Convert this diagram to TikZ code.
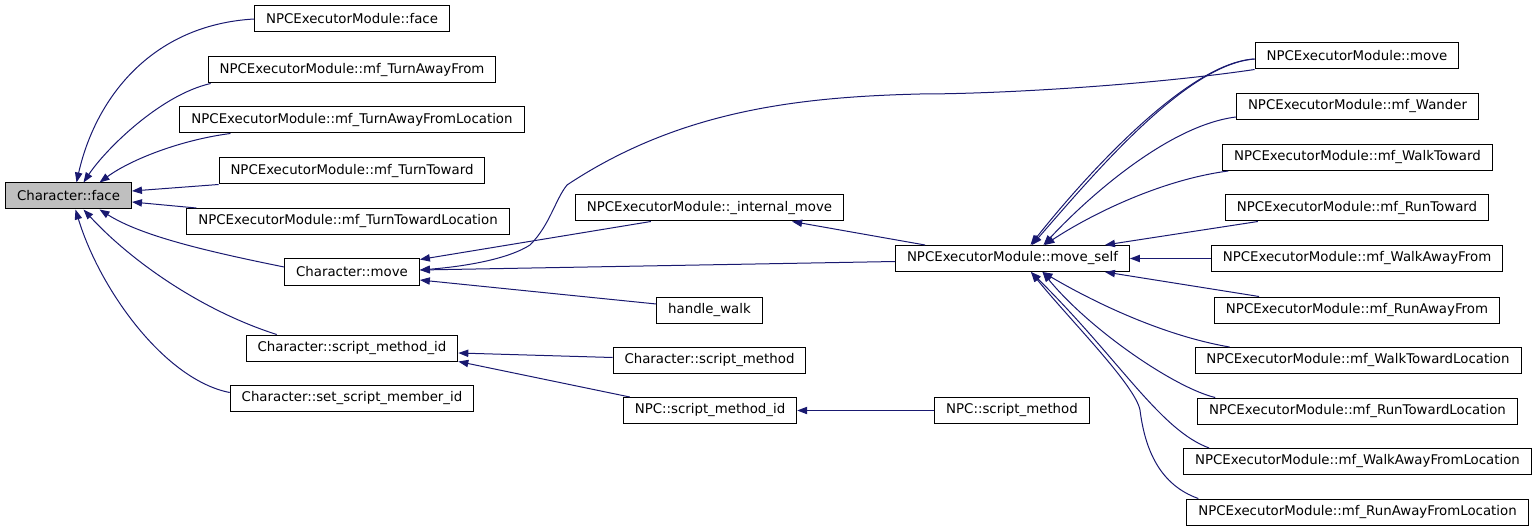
\documentclass[tikz,border=0pt]{standalone}
\usepackage{fontspec}
\setmainfont{DejaVu Sans}
\usetikzlibrary{arrows.meta,calc}

\tikzset{every picture/.style={line width=0.75pt}}
\tikzset{
  fn/.style={draw, inner xsep=8.6pt, inner ysep=0pt, minimum height=19.5pt, font=\fontsize{10}{12}\selectfont},
  fnsel/.style={fn, fill={rgb, 255:red, 191; green, 191; blue, 191 }},
  call/.style={color={rgb, 255:red, 25; green, 25; blue, 112 }, -{Triangle[length=7.5pt,width=5.5pt]}}
}

\begin{document}
\begin{tikzpicture}[x=0.75pt,y=0.75pt,yscale=-1,xscale=1]
\useasboundingbox (0,0) rectangle (1536,531);

% Text Node
\node [fnsel] (cface) at (68.5,196) {Character::face};
% Text Node
\node [fn] (nface) at (352,19) {NPCExecutorModule::face};
\node [fn] (taf) at (352,70) {NPCExecutorModule::mf\_TurnAwayFrom};
\node [fn] (tafl) at (352,120) {NPCExecutorModule::mf\_TurnAwayFromLocation};
\node [fn] (tt) at (352,171) {NPCExecutorModule::mf\_TurnToward};
\node [fn] (ttl) at (348,221.5) {NPCExecutorModule::mf\_TurnTowardLocation};
\node [fn] (cmove) at (352,272) {Character::move};
\node [fn] (csmid) at (352,348) {Character::script\_method\_id};
\node [fn] (cssmid) at (352,398.5) {Character::set\_script\_member\_id};
% Text Node
\node [fn] (imove) at (709.5,208) {NPCExecutorModule::\_internal\_move};
\node [fn] (hwalk) at (709.5,310) {handle\_walk};
\node [fn] (csm) at (709.5,360.5) {Character::script\_method};
\node [fn] (npcsmid) at (710,410.5) {NPC::script\_method\_id};
% Text Node
\node [fn] (mself) at (1012.5,258.5) {NPCExecutorModule::move\_self};
\node [fn] (npcsm) at (1012,410.5) {NPC::script\_method};
% Text Node
\node [fn] (nmove) at (1357,56) {NPCExecutorModule::move};
\node [fn] (wander) at (1357.5,106.5) {NPCExecutorModule::mf\_Wander};
\node [fn] (wt) at (1357.5,157.5) {NPCExecutorModule::mf\_WalkToward};
\node [fn] (rt) at (1357,208) {NPCExecutorModule::mf\_RunToward};
\node [fn] (waf) at (1357,258.5) {NPCExecutorModule::mf\_WalkAwayFrom};
\node [fn] (raf) at (1357,310) {NPCExecutorModule::mf\_RunAwayFrom};
\node [fn] (wtl) at (1358,360.5) {NPCExecutorModule::mf\_WalkTowardLocation};
\node [fn] (rtl) at (1357.5,411) {NPCExecutorModule::mf\_RunTowardLocation};
\node [fn] (wafl) at (1357.5,461.5) {NPCExecutorModule::mf\_WalkAwayFromLocation};
\node [fn] (rafl) at (1357.5,512) {NPCExecutorModule::mf\_RunAwayFromLocation};

%Curve Lines: callers of Character::face
\draw [call] (nface.west) .. controls (150,25) and (95,100) .. ($(cface.north)+(8,0)$);
\draw [call] ($(taf.south west)+(3,0)$) .. controls (160,95) and (105,150) .. ($(cface.north)+(15,0)$);
\draw [call] ($(tafl.south west)+(51,0)$) .. controls (180,140) and (130,160) .. ($(cface.north)+(31,0)$);
\draw [call] (tt.south west) -- ($(cface.east)+(0,-5)$);
\draw [call] ($(ttl.north west)+(10,0)$) -- ($(cface.east)+(0,6)$);
\draw [call] ($(cmove.west)+(0,-5)$) .. controls (200,250) and (140,235) .. ($(cface.south)+(31,0)$);
\draw [call] ($(csmid.north west)+(31,0)$) .. controls (200,310) and (130,260) .. ($(cface.south)+(15,0)$);
\draw [call] ($(cssmid.west)+(0,-6)$) .. controls (165,380) and (100,290) .. ($(cface.south)+(7,0)$);

%Curve Lines: callers of Character::move
\draw [call] (nmove.south west) .. controls (1150,85) and (1000,94) .. (920,94) .. controls (800,97) and (680,110) .. (567,185) .. controls (555,200) and (550,225) .. (530,245) .. controls (510,258) and (470,266) .. ($(cmove.east)+(0,-2)$);
\draw [call] ($(imove.south west)+(76,0)$) -- ($(cmove.north east)+(0,1)$);
\draw [call] ($(mself.west)+(0,3)$) -- ($(cmove.east)+(0,-2)$);
\draw [call] ($(hwalk.west)+(0,-6)$) -- ($(cmove.east)+(0,8)$);
\draw [call] ($(mself.north west)+(30,0)$) -- ($(imove.south east)+(-52,0)$);

%Straight Lines: script methods
\draw [call] ($(csm.west)+(0,-3)$) -- ($(csmid.east)+(0,5)$);
\draw [call] ($(npcsmid.north west)+(7,0)$) -- (csmid.south east);
\draw [call] (npcsm) -- (npcsmid);

%Curve Lines: callers of NPCExecutorModule::move_self
\draw [call] ($(nmove.west)+(0,3)$) .. controls (1190,62) and (1090,170) .. ($(mself.north)+(18,0)$);
\draw [call] ($(nmove.west)+(0,3)$) .. controls (1186,64) and (1094,174) .. ($(mself.north)+(19.5,0)$);
\draw [call] ($(wander.south west)+(0,-3)$) .. controls (1170,125) and (1090,195) .. ($(mself.north)+(31,0)$);
\draw [call] ($(wt.south west)+(6,0)$) .. controls (1160,180) and (1090,215) .. ($(mself.north)+(32,0)$);
\draw [call] ($(rt.south west)+(33,0)$) -- ($(mself.north east)+(-25,0)$);
\draw [call] (waf) -- (mself);
\draw [call] ($(raf.north west)+(45,0)$) -- ($(mself.south east)+(-25,0)$);
\draw [call] ($(wtl.north west)+(35,0)$) .. controls (1160,335) and (1090,300) .. ($(mself.south)+(30,0)$);
\draw [call] ($(rtl.north west)+(18,0)$) .. controls (1175,388) and (1090,330) .. ($(mself.south)+(30,0)$);
\draw [call] ($(wafl.north west)+(26,0)$) .. controls (1160,430) and (1120,360) .. ($(mself.south)+(18.5,0)$);
\draw [call] ($(rafl.north west)+(12,0)$) .. controls (1160,485) and (1145,450) .. (1140,410) .. controls (1135,385) and (1070,320) .. ($(mself.south)+(18.5,0)$);

\end{tikzpicture}
\end{document}
